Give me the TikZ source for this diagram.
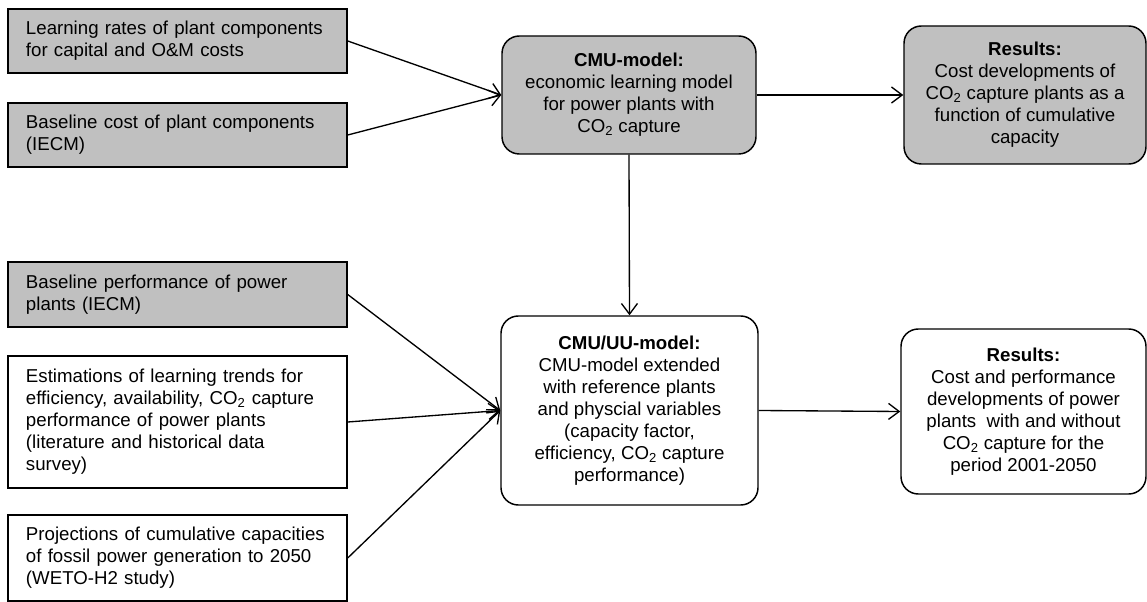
\documentclass[tikz,border=0pt]{standalone}
\usepackage{fontspec}
\setmainfont{Liberation Sans}
\usetikzlibrary{arrows.meta}
\definecolor{boxgray}{HTML}{C0C0C0}
\tikzset{
  base/.style={draw=black, line width=1.1pt, inner sep=0pt, font=\fontsize{14pt}{16.5pt}\selectfont},
  inbox/.style={base, rectangle, align=left, text width=227.25pt, inner xsep=13.5pt, minimum width=254.25pt},
  modelbox/.style={base, rectangle, rounded corners=13pt, align=center},
  grayfill/.style={fill=boxgray},
  conn/.style={line width=1pt, -{Straight Barb[length=8pt,width=12pt,line width=1pt]}}
}
\newcommand{\cotwo}{CO\textsubscript{2}}
\begin{document}
\begin{tikzpicture}[x=0.75pt,y=-0.75pt]
\useasboundingbox (0,0) rectangle (1147,602);

\node[inbox, grayfill, minimum height=48pt] (lr) at (177.5,41)
  {Learning rates of plant components\\for capital and O\&M costs};
\node[inbox, grayfill, minimum height=48pt] (bc) at (177.5,135)
  {Baseline cost of plant components\\(IECM)};
\node[inbox, grayfill, minimum height=48.75pt] (bp) at (177.5,294.5)
  {Baseline performance of power\\plants (IECM)};
\node[inbox, minimum height=99pt] (est) at (177.5,422)
  {Estimations of learning trends for\\efficiency, availability, \cotwo{} capture\\performance of power plants\\(literature and historical data\\survey)};
\node[inbox, minimum height=64.5pt] (proj) at (177.5,558)
  {Projections of cumulative capacities\\of fossil power generation to 2050\\(WETO-H2 study)};

\node[modelbox, grayfill, minimum width=190.5pt, minimum height=88.5pt] (cmu) at (629,95)
  {\textbf{CMU-model:}\\economic learning model\\for power plants with\\\cotwo{} capture};
\node[modelbox, grayfill, minimum width=181.5pt, minimum height=103.5pt] (res1) at (1025,95)
  {\textbf{Results:}\\Cost developments of\\\cotwo{} capture plants as a\\function of cumulative\\capacity};
\node[modelbox, minimum width=192.75pt, minimum height=141.75pt] (cmuuu) at (629.5,410.5)
  {\textbf{CMU/UU-model:}\\CMU-model extended\\with reference plants\\and physcial variables\\(capacity factor,\\efficiency, \cotwo{} capture\\performance)};
\node[modelbox, minimum width=183.75pt, minimum height=123.75pt] (res2) at (1023.5,411.5)
  {\textbf{Results:}\\Cost and performance\\developments of power\\plants~ with and without\\\cotwo{} capture for the\\period 2001-2050};

\draw[conn] (lr.east) -- (cmu.west);
\draw[conn] (bc.east) -- (cmu.west);
\draw[conn] (cmu.east) -- (res1.west);
\draw[conn] (cmu.south) -- (cmuuu.north);
\draw[conn] (bp.east) -- (cmuuu.west);
\draw[conn] (est.east) -- (cmuuu.west);
\draw[conn] (proj.east) -- (cmuuu.west);
\draw[conn] (cmuuu.east) -- (res2.west);
\end{tikzpicture}
\end{document}
